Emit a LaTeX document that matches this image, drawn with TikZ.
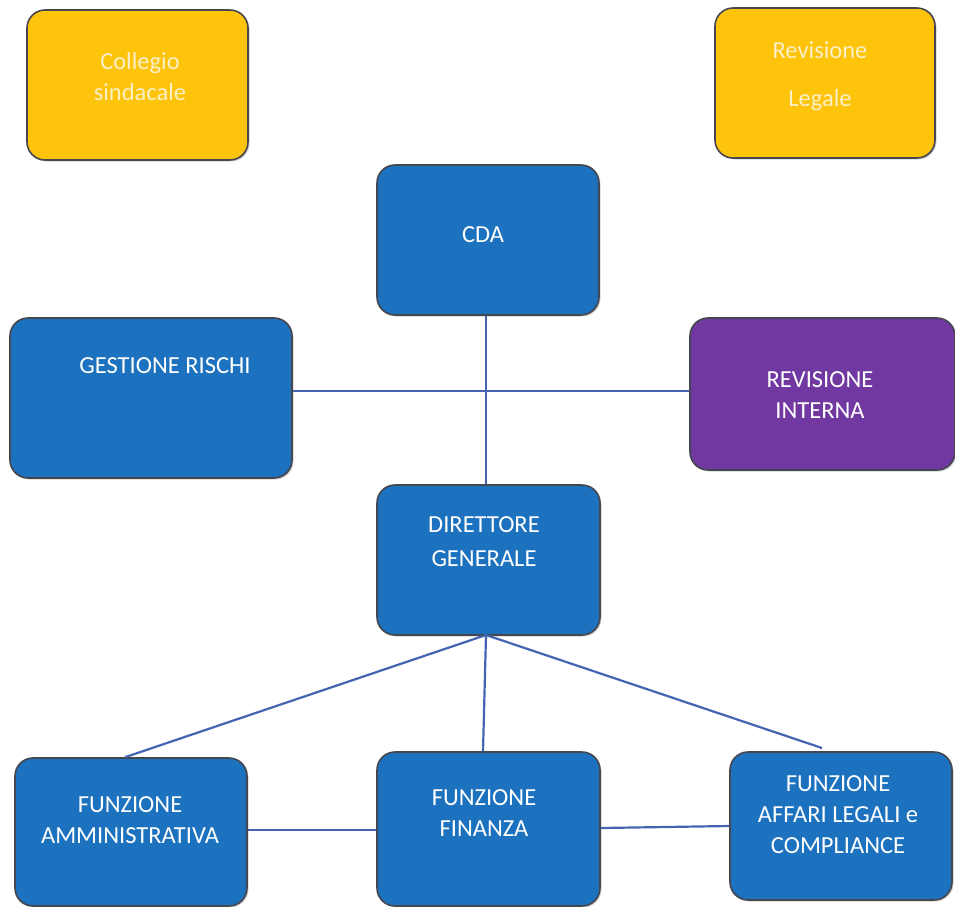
\documentclass[tikz,border=0pt]{standalone}
\usepackage{fontspec}
\setmainfont{Carlito}
\usetikzlibrary{shadows}
\definecolor{boxblue}{RGB}{28,114,190}
\definecolor{boxyellow}{RGB}{254,196,12}
\definecolor{boxpurple}{RGB}{112,56,160}
\definecolor{rim}{RGB}{70,70,80}
\definecolor{linkblue}{RGB}{68,100,178}
\definecolor{paletext}{RGB}{250,240,200}
\tikzset{
  box/.style={draw=rim, line width=1.6pt, rounded corners=18pt, inner sep=0pt,
    drop shadow={shadow xshift=1.5pt, shadow yshift=-1.5pt, opacity=0.35}},
  blue box/.style={box, fill=boxblue},
  yellow box/.style={box, fill=boxyellow},
  purple box/.style={box, fill=boxpurple},
  lbl/.style={align=center, font=\fontsize{24.5}{31}\selectfont, text=white},
  ylbl/.style={align=center, font=\fontsize{24.5}{31}\selectfont, text=paletext},
  link/.style={draw=linkblue, line width=2.2pt}
}
\begin{document}
\begin{tikzpicture}[x=1pt,y=-1pt]
\useasboundingbox (0,0) rectangle (955,906);
\node[yellow box, minimum width=221pt, minimum height=150pt] (coll) at (137.5,85) {};
\node[ylbl] (collT) at (140,77) {Collegio\\sindacale};
\node[yellow box, minimum width=220pt, minimum height=150pt] (revl) at (825,83) {};
\node[ylbl] (revlT) at (820,76) {Revisione\\[17pt]Legale};
\node[blue box, minimum width=222pt, minimum height=150pt] (cda) at (488,240) {};
\node[lbl] (cdaT) at (483,235) {CDA};
\node[blue box, minimum width=282pt, minimum height=160pt] (gest) at (151,398) {};
\node[lbl] (gestT) at (165,366) {GESTIONE RISCHI};
\node[purple box, minimum width=265pt, minimum height=152pt] (revi) at (822.5,394) {};
\node[lbl] (reviT) at (820,395) {REVISIONE\\INTERNA};
\node[blue box, minimum width=223pt, minimum height=150pt] (dir) at (488.5,560) {};
\node[lbl] (dirT) at (484,542) {DIRETTORE\\[3pt]GENERALE};
\node[blue box, minimum width=232pt, minimum height=148pt] (amm) at (131,832) {};
\node[lbl] (ammT) at (130,820) {FUNZIONE\\AMMINISTRATIVA};
\node[blue box, minimum width=223pt, minimum height=154pt] (fin) at (488.5,829) {};
\node[lbl] (finT) at (484,813) {FUNZIONE\\FINANZA};
\node[blue box, minimum width=222pt, minimum height=148pt] (aff) at (841,826) {};
\node[lbl] (affT) at (838,815) {FUNZIONE\\AFFARI LEGALI e\\COMPLIANCE};
% connectors
\draw[link] (cda.south -| 486,0) -- (dir.north -| 486,0);
\draw[link] (gest.east |- 0,391) -- (revi.west |- 0,391);
\coordinate (dirb) at (486,635);
\coordinate (affTop) at (822,748);
\draw[link] (dirb) -- (amm.north -| 125,0);
\draw[link] (dirb) -- (fin.north -| 483,0);
\draw[link] (dirb) -- (affTop);
\draw[link] (amm.east |- 0,830) -- (fin.west |- 0,830);
\draw[link] (fin.east |- 0,828) -- (aff.west |- 0,826);
\end{tikzpicture}
\end{document}
